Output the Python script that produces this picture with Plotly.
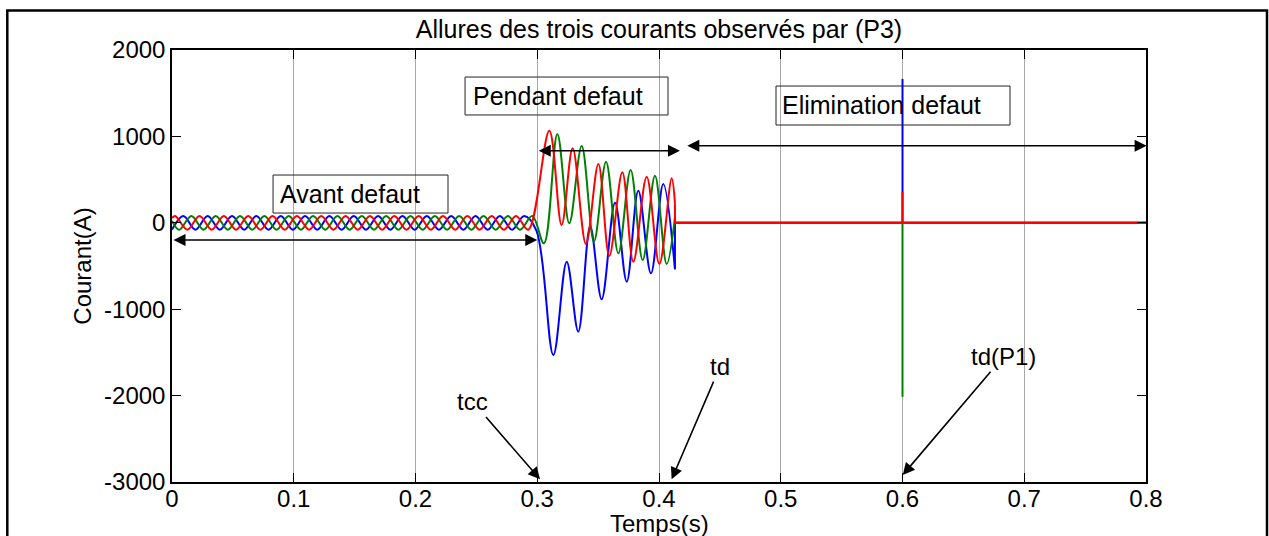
import plotly.graph_objects as go

# ---------------- data ----------------
# Steady state (before the fault): extremum instants and values of each phase
pre_t_blue = [0.0, 0.0093, 0.0193, 0.0293, 0.0393, 0.0493, 0.0593, 0.0693, 0.0793, 0.0893, 0.0993,
              0.1093, 0.1193, 0.1293, 0.1393, 0.1493, 0.1593, 0.1693, 0.1793, 0.1893, 0.1993,
              0.2093, 0.2193, 0.2293, 0.2393, 0.2493, 0.2593, 0.2693, 0.2793, 0.2893, 0.2993]
pre_i_blue = [-79, 80, -80, 80, -80, 80, -80, 80, -80, 80, -80,
              80, -80, 80, -80, 80, -80, 80, -80, 80, -80,
              80, -80, 80, -80, 80, -80, 80, -80, 80, -90]

pre_t_green = [0.0, 0.0059, 0.0159, 0.0259, 0.0359, 0.0459, 0.0559, 0.0659, 0.0759, 0.0859, 0.0959,
               0.1059, 0.1159, 0.1259, 0.1359, 0.1459, 0.1559, 0.1659, 0.1759, 0.1859, 0.1959,
               0.2059, 0.2159, 0.2259, 0.2359, 0.2459, 0.2559, 0.2659, 0.2759, 0.2859, 0.2959]
pre_i_green = [22, -80, 80, -80, 80, -80, 80, -80, 80, -80, 80,
               -80, 80, -80, 80, -80, 80, -80, 80, -80, 80,
               -80, 80, -80, 80, -80, 80, -80, 80, -80, 80]

pre_t_red = [0.0, 0.0026, 0.0126, 0.0226, 0.0326, 0.0426, 0.0526, 0.0626, 0.0726, 0.0826, 0.0926,
             0.1026, 0.1126, 0.1226, 0.1326, 0.1426, 0.1526, 0.1626, 0.1726, 0.1826, 0.1926,
             0.2026, 0.2126, 0.2226, 0.2326, 0.2426, 0.2526, 0.2626, 0.2726, 0.2826, 0.2926]
pre_i_red = [55, 80, -80, 80, -80, 80, -80, 80, -80, 80, -80,
             80, -80, 80, -80, 80, -80, 80, -80, 80, -80,
             80, -80, 80, -80, 80, -80, 80, -80, 80, -80]

# During the fault (tcc -> td): extremum instants and values
flt_t_blue = [0.3132, 0.3242, 0.3337, 0.3435, 0.3529, 0.3639, 0.3735, 0.3830, 0.3934, 0.4035, 0.4131]
flt_i_blue = [-1530, -450, -1260, -40, -885, 233, -681, 372, -585, 449, -538]

flt_t_green = [0.3055, 0.3165, 0.3263, 0.3365, 0.3466, 0.3565, 0.3666, 0.3767, 0.3866, 0.3967, 0.4063, 0.4131]
flt_i_green = [-238, 1028, -6, 889, -218, 708, -353, 611, -431, 545, -477, 60]

flt_t_red = [0.3099, 0.3200, 0.3291, 0.3400, 0.3502, 0.3592, 0.3699, 0.3789, 0.3899, 0.4003, 0.4104, 0.4131]
flt_i_red = [1066, -25, 862, -245, 680, -384, 584, -450, 534, -477, 515, 225]

# After clearing (td -> end), with the transient seen when P1 trips
post_t = [0.4131, 0.4131, 0.6, 0.6, 0.6, 0.8]
post_i_blue = [-538, 0, 0, 1664, 0, 0]
post_i_green = [60, 0, 0, -2012, 0, 0]
post_i_red = [225, 0, 0, 360, 0, 0]

# Event instants marked on the chart
t_cc, t_d, t_d_p1 = 0.3023, 0.4104, 0.6002

x_ticks = [0, 0.1, 0.2, 0.3, 0.4, 0.5, 0.6, 0.7, 0.8]
y_ticks = [-3000, -2000, -1000, 0, 1000, 2000]
y_tick_text = ["-3000", "-2000", "-1000", "0", "1000", "2000"]

# ---------------- figure ----------------
FONT = "Liberation Sans, Arial, Helvetica, sans-serif"
W, H = 1269, 536
ML, MR, MT, MB = 172, 123, 50, 54
PW, PH = W - ML - MR, H - MT - MB

def px_x(p):
    return (p - ML) / PW

def px_y(p):
    return (H - MB - p) / PH

fig = go.Figure()

phases = [
    ("#0000ff", pre_t_blue, pre_i_blue, flt_t_blue, flt_i_blue, post_i_blue),
    ("#008000", pre_t_green, pre_i_green, flt_t_green, flt_i_green, post_i_green),
    ("#ff0000", pre_t_red, pre_i_red, flt_t_red, flt_i_red, post_i_red),
]
for color, pt, pi, ft, fi, qi in phases:
    fig.add_trace(go.Scatter(x=pt + ft, y=pi + fi, mode="lines",
                             line=dict(color=color, width=2, shape="spline", smoothing=1),
                             showlegend=False, hoverinfo="skip"))
    fig.add_trace(go.Scatter(x=post_t, y=qi, mode="lines",
                             line=dict(color=color, width=2),
                             showlegend=False, hoverinfo="skip"))

axis_common = dict(showline=True, linecolor="black", linewidth=1.5, mirror="ticks",
                   ticks="inside", ticklen=9, tickcolor="black", tickwidth=1,
                   zeroline=False, automargin=False,
                   tickfont=dict(family=FONT, size=24, color="black"))

fig.update_xaxes(range=[0, 0.8], tickvals=x_ticks, showgrid=True, gridcolor="#a8a8a8", gridwidth=1,
                 ticklabelstandoff=-6, **axis_common)
fig.update_yaxes(range=[-3000, 2000], tickvals=y_ticks, ticktext=y_tick_text, showgrid=False,
                 title=dict(text="Courant(A)", font=dict(family=FONT, size=24, color="black"), standoff=6),
                 **axis_common)

shapes = []
annotations = []

# x-axis label, placed just under the tick labels
annotations.append(dict(x=px_x(659), y=px_y(523), xref="paper", yref="paper", text="Temps(s)",
                        showarrow=False, xanchor="center", yanchor="middle",
                        font=dict(family=FONT, size=24, color="black")))

# Labelled boxes for the three phases of the event
boxes = [
    ("Avant defaut", 0.0830, 0.2267, 553, 113, 0.0880, 333),
    ("Pendant defaut", 0.2407, 0.4074, 1687, 1248, 0.2463, 1468),
    ("Elimination defaut", 0.4961, 0.6883, 1583, 1132, 0.5000, 1358),
]
for text, x0, x1, y0, y1, tx, ty in boxes:
    shapes.append(dict(type="rect", xref="x", yref="y", x0=x0, x1=x1, y0=y0, y1=y1,
                       line=dict(color="#222222", width=1)))
    annotations.append(dict(x=tx, y=ty, xref="x", yref="y", text=text, showarrow=False,
                            xanchor="left", yanchor="middle", borderpad=0,
                            font=dict(family=FONT, size=25, color="black")))

# Double-headed span arrows
spans = [(0.0, 0.3, -199), (0.3, 0.4172, 834), (0.422, 0.8005, 892)]
for a, b, yv in spans:
    annotations.append(dict(x=b, y=yv, ax=a, ay=yv, xref="x", yref="y", axref="x", ayref="y",
                            text="", showarrow=True, arrowhead=2, arrowside="end+start",
                            arrowsize=1.5, arrowwidth=1.6, arrowcolor="black",
                            standoff=0, startstandoff=0))

# Event markers
events = [("tcc", t_cc, -2969, 0.2472, -2074),
          ("td", t_d, -2969, 0.4501, -1665),
          ("td(P1)", t_d_p1, -2919, 0.6828, -1550)]
for text, xv, yv, tx, ty in events:
    annotations.append(dict(x=xv, y=yv, ax=tx, ay=ty, xref="x", yref="y", axref="x", ayref="y",
                            text=text, showarrow=True, arrowhead=2, arrowsize=1.5,
                            arrowwidth=1.6, arrowcolor="black", standoff=0,
                            font=dict(family=FONT, size=24, color="black")))

# Outer figure frame
shapes.append(dict(type="rect", xref="paper", yref="paper",
                   x0=px_x(7.3), x1=px_x(1267), y0=px_y(560), y1=px_y(10.5),
                   line=dict(color="black", width=2.5)))

fig.update_layout(
    width=W, height=H,
    margin=dict(l=ML, r=MR, t=MT, b=MB, autoexpand=False),
    paper_bgcolor="white", plot_bgcolor="white",
    title=dict(text="Allures des trois courants observés par (P3)",
               font=dict(family=FONT, size=25, color="black"),
               x=659 / W, xanchor="center",
               y=1 - 29 / H, yanchor="middle"),
    shapes=shapes, annotations=annotations,
    showlegend=False,
)

fig.write_html("out.html")
